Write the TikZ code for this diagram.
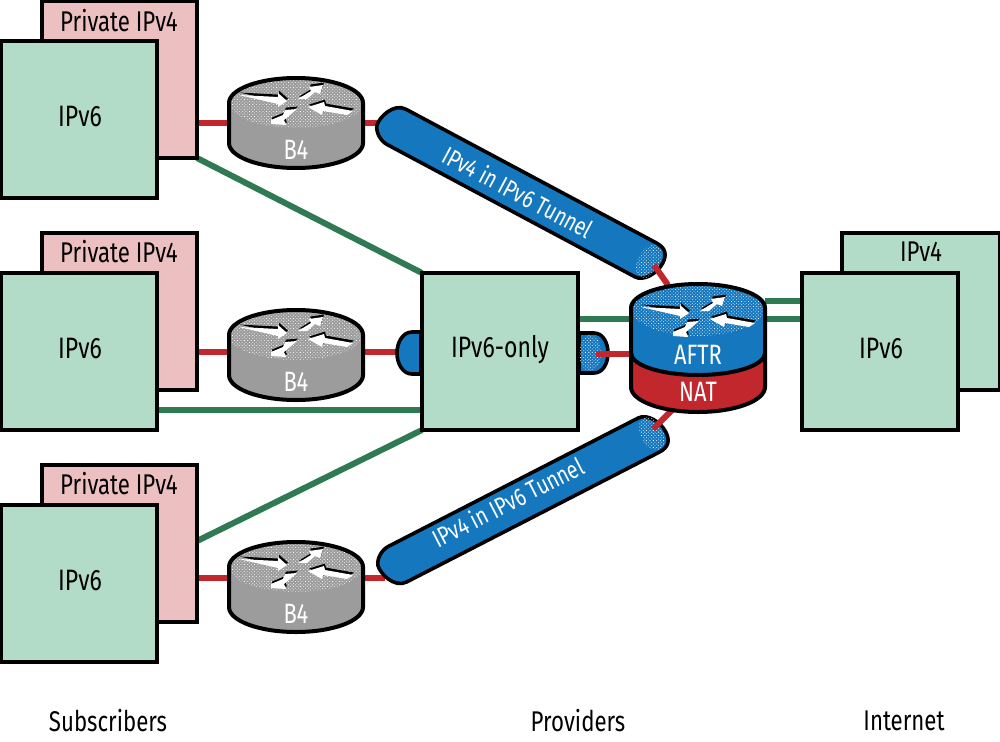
\documentclass[tikz,border=0pt]{standalone}
\usepackage{fontspec}
\setmainfont[FakeStretch=0.78]{Fira Sans}
\usetikzlibrary{backgrounds,patterns.meta}
\definecolor{pinkb}{HTML}{ECBFC1}
\definecolor{greenb}{HTML}{B2DBC8}
\definecolor{greenl}{HTML}{2F7A52}
\definecolor{redl}{HTML}{C1272D}
\definecolor{blueb}{HTML}{1578BE}
\definecolor{grayb}{HTML}{9C9C9C}
\tikzset{
  pbox/.style={draw=black,line width=3.6pt,fill=pinkb,minimum width=155pt,minimum height=157pt,outer sep=0pt,inner sep=0pt},
  gbox/.style={draw=black,line width=3.6pt,fill=greenb,minimum width=156pt,minimum height=157pt,outer sep=0pt,inner sep=0pt},
  rnode/.style={minimum width=134pt,minimum height=90pt,outer sep=0pt,inner sep=0pt},
  ggl/.style={greenl,line width=6pt},
  rdl/.style={redl,line width=6pt},
  outl/.style={draw=black,line width=4pt,line join=round},
  dotsw/.style={pattern={Dots[radius=.55pt,distance=2.4pt,angle=45]},pattern color=white},
  wlab/.style={text=white,font=\fontsize{28}{30}\selectfont,inner sep=0pt},
  blab/.style={text=black,font=\fontsize{28.5}{30}\selectfont,inner sep=0pt},
  big/.style={text=black,font=\fontsize{29.5}{31}\selectfont,inner sep=0pt},
  tlab/.style={text=white,font=\fontsize{25}{27}\selectfont,inner sep=0pt},
}
\newcommand\arrowset{%
  \foreach \sx/\sy/\col in {1/-2.4/black,0/0/white}{
    \begin{scope}[shift={(\sx,\sy)}]
    \fill[\col] (-57,-28) -- (-18,-26) -- (-18,-30) -- (-9,-22) -- (-18,-16) -- (-18,-19) -- cycle;
    \fill[\col] (2,-24) -- (15,-32) -- (13,-36) -- (27,-38) -- (24,-29) -- (19,-31) -- (11,-24) -- cycle;
    \fill[\col] (57,-12) -- (29,-17) -- (28,-21) -- (12,-16) -- (26,-8) -- (27,-12) -- (51,-8) -- cycle;
    \fill[\col] (1,-14) -- (-11,-13) -- (-13,-8) -- (-25,-3) -- (-25,1) -- (-10,2) -- (-12,-3) -- cycle;
    \end{scope}}}
\newcommand\router[3]{%
  \begin{scope}[shift={(#1,#2)}]
    \path[fill=#3] (-67,-20) arc[x radius=67,y radius=25,start angle=180,end angle=360] -- (67,20) arc[x radius=67,y radius=25,start angle=0,end angle=180] -- cycle;
    \path[dotsw] (-67,-20) arc[x radius=67,y radius=25,start angle=180,end angle=360] arc[x radius=67,y radius=25,start angle=0,end angle=180] -- cycle;
    \draw[outl] (-67,-20) arc[x radius=67,y radius=25,start angle=180,end angle=360] -- (67,20) arc[x radius=67,y radius=25,start angle=0,end angle=180] -- cycle;
    \arrowset
  \end{scope}}
\newcommand\tunnelbody[1]{%
  \path[fill=blueb,draw=black,line width=3.6pt,line join=round]
    (4,-20) -- (#1-5,-20) .. controls (#1+6,-20) and (#1+10,-14) .. (#1+10,-5)
    .. controls (#1+10,6) and (#1+2,20) .. (#1-8,20) -- (4,20)
    .. controls (-4,20) and (-12,14) .. (-14,8) .. controls (-16,0) and (-10,-20) .. (4,-20) -- cycle;
  \path[dotsw] (#1-3,0) ellipse[x radius=11,y radius=18];
}
\begin{document}
\begin{tikzpicture}[x=1pt,y=-1pt]
\useasboundingbox (0,0) rectangle (1000,741);
\clip (0,0) rectangle (1000,741);
% subscriber boxes
\node[pbox,anchor=north west] (p1) at (42,1) {};
\node[blab] (pl1) at (119,21) {Private IPv4};
\node[gbox,anchor=north west] (s1) at (1,41) {};
\node[big] (sl1) at (80,117) {IPv6};
\node[pbox,anchor=north west] (p2) at (42,233) {};
\node[blab] (pl2) at (119,252) {Private IPv4};
\node[gbox,anchor=north west] (s2) at (1,273) {};
\node[big] (sl2) at (80,349) {IPv6};
\node[pbox,anchor=north west] (p3) at (42,465) {};
\node[blab] (pl3) at (119,484) {Private IPv4};
\node[gbox,anchor=north west] (s3) at (1,505) {};
\node[big] (sl3) at (80,581) {IPv6};
% provider and internet
\node[gbox,anchor=north west] (core) at (422,273) {};
\node[big] (cl) at (500,350) {IPv6-only};
\node[gbox,minimum width=158pt,anchor=north west] (i4) at (842,233) {};
\node[blab] (i4l) at (921,252) {IPv4};
\node[gbox,anchor=north west] (i6) at (802,273) {};
\node[big] (i6l) at (881,349) {IPv6};
% invisible router frames
\node[rnode] (r1) at (296,123) {};
\node[rnode] (r2) at (296,355) {};
\node[rnode] (r3) at (296,587) {};
\node[rnode,minimum height=127pt] (aftr) at (698,349) {};
\coordinate (bl) at (398,352);
\coordinate (t1a) at (385,123);
\coordinate (t3a) at (385,578);
\begin{scope}[on background layer]
  \draw[ggl] (p1.south east) -- (core.north west);
  \draw[ggl] (s2.east |- 0,410) -- (core.west |- 0,410);
  \draw[ggl] (p3.east |- 0,541) -- (core.south west);
  \draw[ggl] (core.east |- 0,319) -- (aftr.west |- 0,319);
  \draw[ggl] (aftr.east |- 0,301) -- (i6.west |- 0,301);
  \draw[ggl] (aftr.east |- 0,319) -- (i6.west |- 0,319);
  \draw[rdl] (r1.west |- 0,123) -- (p1.east |- 0,123);
  \draw[rdl] (r2.west |- 0,352) -- (s2.east |- 0,352);
  \draw[rdl] (r3.west |- 0,578) -- (p3.east |- 0,578);
  \draw[rdl] (r1.east |- 0,123) -- (t1a);
  \draw[rdl] (r2.east |- 0,352) -- (bl);
  \draw[rdl] (r3.east |- 0,578) -- (t3a);
\end{scope}
% small tunnel stubs
\path[fill=blueb,draw=black,line width=3.6pt,line join=round] (421,332) -- (412,332) .. controls (403,332) and (397,342) .. (397,353) .. controls (397,364) and (403,374) .. (412,374) -- (421,374) -- cycle;
\path[fill=blueb,draw=black,line width=3.6pt,line join=round] (579,333) -- (594,333) .. controls (603,333) and (608,343) .. (608,353) .. controls (608,363) and (603,373) .. (594,373) -- (579,373) -- cycle;
\path[dotsw] (590,353) ellipse[x radius=11,y radius=18];
% long tunnels
\begin{scope}[shift={(393,125)},rotate=-28.1]
  \tunnelbody{293}
\end{scope}
\begin{scope}[shift={(394,566)},rotate=27.2,yscale=-1]
  \tunnelbody{293}
\end{scope}
\coordinate (t1e) at (654,265);
\coordinate (t2e) at (653,429);
\coordinate (st) at (596,354);
\draw[rdl] (t1e) -- (668,285);
\draw[rdl] (t2e) -- (672,410);
\draw[rdl] (st) -- (aftr.west |- st);
% routers
\router{296}{123}{grayb}
\router{296}{355}{grayb}
\router{296}{587}{grayb}
\begin{scope}[shift={(698,333)}]
  \path[fill=redl] (-67,15) -- (67,15) -- (67,54) arc[x radius=67,y radius=25,start angle=0,end angle=180] -- cycle;
  \path[fill=blueb] (-67,-25) arc[x radius=67,y radius=25,start angle=180,end angle=360] -- (67,20) arc[x radius=67,y radius=22,start angle=0,end angle=180] -- cycle;
  \path[dotsw] (-67,-25) arc[x radius=67,y radius=24,start angle=180,end angle=360] arc[x radius=67,y radius=28,start angle=0,end angle=180] -- cycle;
  \draw[outl] (-67,-25) arc[x radius=67,y radius=24,start angle=180,end angle=360] -- (67,54) arc[x radius=67,y radius=25,start angle=0,end angle=180] -- cycle;
  \draw[outl] (-67,20) arc[x radius=67,y radius=22,start angle=180,end angle=0];
  \begin{scope}[yshift=-2pt]\arrowset\end{scope}
\end{scope}
% labels
\node[wlab] (bl1) at (296,150) {B4};
\node[wlab] (bl2) at (296,382) {B4};
\node[wlab] (bl3) at (296,614) {B4};
\node[wlab] (al) at (698,355) {AFTR};
\node[wlab] (nl) at (698,392) {NAT};
\node[tlab,rotate=-28.1] (tl1) at (518,192) {IPv4 in IPv6 Tunnel};
\node[tlab,rotate=27.2] (tl2) at (508,502) {IPv4 in IPv6 Tunnel};
\node[blab] (c1) at (108,721) {Subscribers};
\node[blab] (c2) at (578,721) {Providers};
\node[blab] (c3) at (904,721) {Internet};
\end{tikzpicture}
\end{document}
